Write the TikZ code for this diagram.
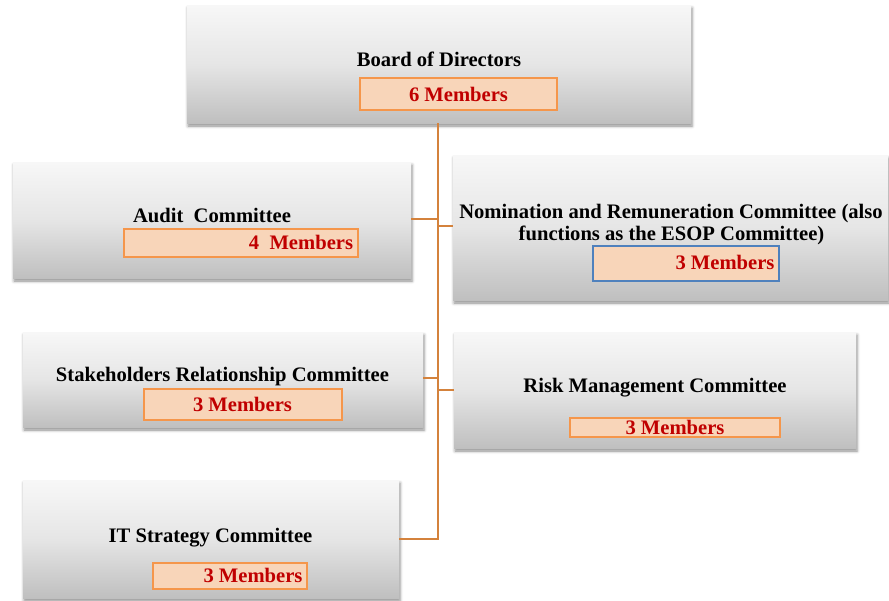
\documentclass[tikz,border=0pt]{standalone}
\usepackage{fontspec}
\setmainfont{Liberation Serif}
\usetikzlibrary{shadows,shadows.blur}
\definecolor{conncol}{RGB}{212,130,60}
\definecolor{memfill}{RGB}{248,213,185}
\definecolor{memdraw}{RGB}{245,150,75}
\definecolor{memblue}{RGB}{79,129,189}
\definecolor{memred}{RGB}{192,0,0}
\tikzset{
  cbox/.style={rectangle, draw=none, inner sep=0pt,
    top color=black!3, bottom color=black!25, middle color=black!10,
    blur shadow={shadow xshift=1pt, shadow yshift=-3pt, shadow blur radius=3pt, shadow opacity=45}},
  mbox/.style={rectangle, draw=memdraw, line width=1.4pt, fill=memfill, inner sep=0pt},
  title/.style={anchor=base, inner sep=0pt, font=\fontsize{20.6}{23}\selectfont\bfseries, text=black},
  mtext/.style={anchor=base, inner sep=0pt, font=\fontsize{20.6}{23}\selectfont\bfseries, text=memred},
  conn/.style={draw=conncol, line width=1.8pt}
}
\begin{document}
\begin{tikzpicture}[x=1pt,y=-1pt]
\useasboundingbox (0,0) rectangle (889,600);
% boxes
\node[cbox, minimum width=504pt, minimum height=118pt] (board) at (439,64) {};
\node[cbox, minimum width=398pt, minimum height=116pt] (audit) at (212,220) {};
\node[cbox, minimum width=435pt, minimum height=145pt] (nom) at (670.5,227.5) {};
\node[cbox, minimum width=400pt, minimum height=95pt] (stake) at (223,379.5) {};
\node[cbox, minimum width=402pt, minimum height=116pt] (risk) at (655,390) {};
\node[cbox, minimum width=376pt, minimum height=118pt] (it) at (211,539) {};
% member boxes
\node[mbox, minimum width=197pt, minimum height=32pt] (mboard) at (458.5,94) {};
\node[mbox, minimum width=234pt, minimum height=28pt] (maudit) at (241,243) {};
\node[mbox, draw=memblue, minimum width=186pt, minimum height=35pt] (mnom) at (686,263.5) {};
\node[mbox, minimum width=198pt, minimum height=31pt] (mstake) at (243,404.5) {};
\node[mbox, minimum width=210pt, minimum height=19pt] (mrisk) at (675,427.5) {};
\node[mbox, minimum width=154pt, minimum height=26pt] (mit) at (230,576) {};
% titles
\node[title] (tboard) at (439,66) {Board of Directors};
\node[title] (taudit) at (212,222) {Audit\ \ Committee};
\node[title] (tnom1) at (671,218) {Nomination and Remuneration Committee (also};
\node[title] (tnom2) at (671.5,240) {functions as the ESOP Committee)};
\node[title] (tstake) at (222.5,381) {Stakeholders Relationship Committee};
\node[title] (trisk) at (655,392) {Risk Management Committee};
\node[title] (tit) at (210.5,542) {IT Strategy Committee};
% member texts
\node[mtext] (xboard) at (458.5,101) {6 Members};
\node[mtext] (xaudit) at (301,249) {4\ \ Members};
\node[mtext] (xnom) at (725,269) {3 Members};
\node[mtext] (xstake) at (242.5,411) {3 Members};
\node[mtext] (xrisk) at (675,434) {3 Members};
\node[mtext] (xit) at (253,582) {3 Members};
% connectors
\coordinate (spine) at (438,0);
\draw[conn] (board.south -| spine) |- (it.east);
\draw[conn] (audit.east) ++(0,-1) -- ++(27,0);
\draw[conn] (nom.west) ++(0,-1.5) -- ++(-15,0);
\draw[conn] (stake.east) ++(0,-1.5) -- ++(15,0);
\draw[conn] (risk.west) -- (risk.west -| spine);
\end{tikzpicture}
\end{document}
